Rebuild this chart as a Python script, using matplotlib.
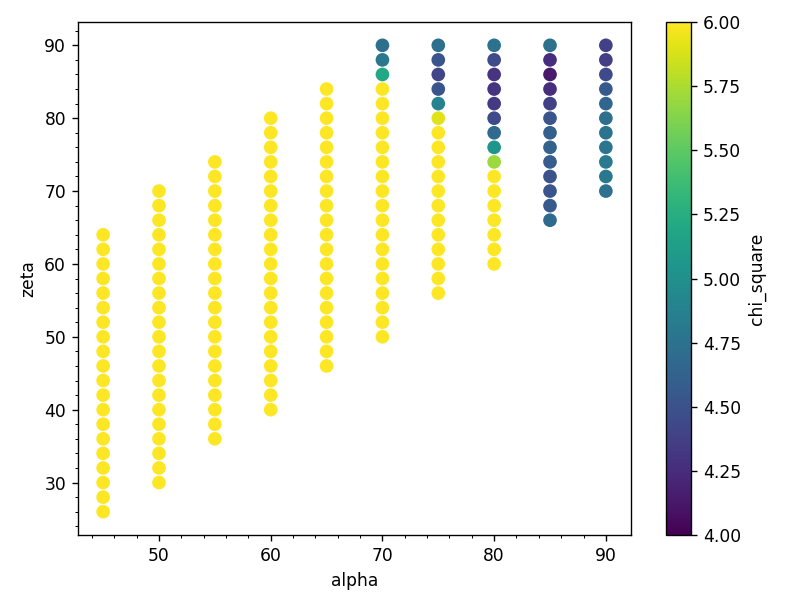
import numpy as np
import pandas as pd
from matplotlib import pyplot as plt

# zeta ranges per alpha column (step 2)
alpha_vals = [45, 50, 55, 60, 65, 70, 75, 80, 85, 90]
zeta_lo = [26, 30, 36, 40, 46, 50, 56, 60, 66, 70]
zeta_hi = [64, 70, 74, 80, 84, 90, 90, 90, 90, 90]

# chi_square values read from the top of each column (top -> down), rest is >= 6 (clipped yellow)
chi_top = {
    70: [4.72, 4.80, 5.20],
    75: [4.72, 4.53, 4.42, 4.52, 4.88, 5.90],
    80: [4.75, 4.45, 4.30, 4.30, 4.33, 4.45, 4.68, 5.05, 5.70],
    85: [4.74, 4.26, 4.14, 4.26, 4.38, 4.52, 4.60, 4.62, 4.58, 4.50, 4.52, 4.56, 4.68],
    90: [4.38, 4.36, 4.45, 4.56, 4.66, 4.72, 4.76, 4.78, 4.82, 4.80, 4.74],
}
chi_fill = 6.5

rows = []
for a, lo, hi in zip(alpha_vals, zeta_lo, zeta_hi):
    zs = list(range(hi, lo - 1, -2))
    top = chi_top.get(a, [])
    for i, z in enumerate(zs):
        c = top[i] if i < len(top) else chi_fill
        rows.append((a, z, c))
df = pd.DataFrame(rows, columns=['alpha', 'zeta', 'chi_square'])

plt.rcParams['font.size'] = 10
fig = plt.figure(figsize=(789 / 123, 609 / 123), dpi=123)
ax = fig.add_axes([78 / 789, 1 - 535 / 609, 553 / 789, 513 / 609])
cax = fig.add_axes([666 / 789, 1 - 535 / 609, 25 / 789, 513 / 609])

sc = ax.scatter(df['alpha'], df['zeta'], c=df['chi_square'], cmap='viridis',
                vmin=4, vmax=6, s=64, linewidths=0)
ax.set_xlim(42.75, 92.25)
ax.set_ylim(22.8, 93.2)
ax.set_xticks([50, 60, 70, 80, 90])
ax.set_yticks([30, 40, 50, 60, 70, 80, 90])
ax.set_xticks(np.arange(44, 92, 2), minor=True)
ax.set_yticks(np.arange(24, 94, 2), minor=True)
ax.set_xlabel('alpha')
ax.set_ylabel('zeta')

cb = fig.colorbar(sc, cax=cax)
cb.set_label('chi_square')
cb.set_ticks([4.0, 4.25, 4.5, 4.75, 5.0, 5.25, 5.5, 5.75, 6.0])
cb.ax.set_yticklabels(['4.00', '4.25', '4.50', '4.75', '5.00', '5.25', '5.50', '5.75', '6.00'])

plt.savefig('out.png')
plt.close()
